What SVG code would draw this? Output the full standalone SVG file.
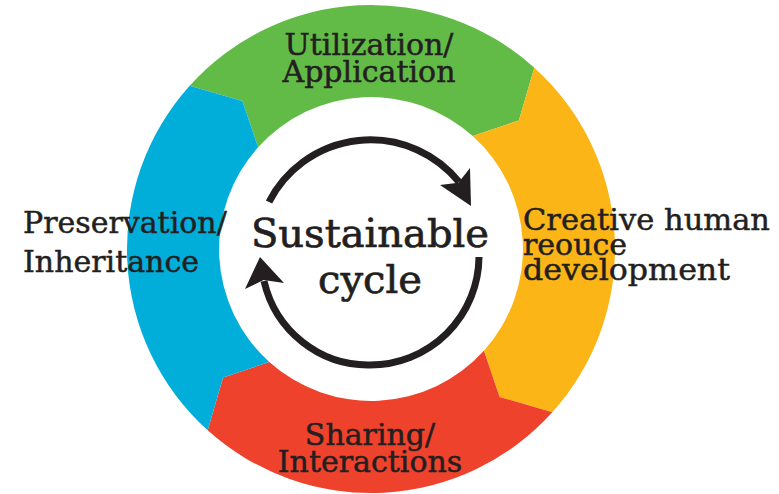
<svg xmlns="http://www.w3.org/2000/svg" width="779" height="494" viewBox="0 0 779 494">
<style>
.lbl{font-family:"DejaVu Serif","Liberation Serif",serif;font-size:30px;fill:#231F20;stroke:#231F20;stroke-width:0.5}
.mid{text-anchor:middle}
.big{font-size:40px;stroke-width:0.7}
.arc{fill:none;stroke:#231F20;stroke-width:7}
.head{fill:#231F20}
</style>
<rect width="779" height="494" fill="#ffffff"/>
<g id="utilization">
<path fill="#62BB47" d="M 189.7 85.7 A 244 244 0 0 1 534.3 67.7 L 518.9 120.4 L 472.7 136.1 A 152 152 0 0 0 258.1 147.3 L 242.4 101.1 Z"/>
<text class="lbl mid" x="369" y="55">Utilization/</text>
<text class="lbl mid" x="369" y="82">Application</text>
</g>
<g id="creative">
<path fill="#FBB517" d="M 534.3 67.7 A 244 244 0 0 1 552.3 412.3 L 499.6 396.9 L 483.9 350.7 A 152 152 0 0 0 472.7 136.1 L 518.9 120.4 Z"/>
<text class="lbl" x="523" y="230" textLength="247" lengthAdjust="spacingAndGlyphs">Creative human</text>
<text class="lbl" x="523" y="255">reouce</text>
<text class="lbl" x="523" y="280" textLength="207" lengthAdjust="spacingAndGlyphs">development</text>
</g>
<g id="sharing">
<path fill="#EE422C" d="M 552.3 412.3 A 244 244 0 0 1 207.7 430.3 L 223.1 377.6 L 269.3 361.9 A 152 152 0 0 0 483.9 350.7 L 499.6 396.9 Z"/>
<text class="lbl mid" x="370" y="445">Sharing/</text>
<text class="lbl mid" x="370" y="472">Interactions</text>
</g>
<g id="preservation">
<path fill="#00AED9" d="M 207.7 430.3 A 244 244 0 0 1 189.7 85.7 L 242.4 101.1 L 258.1 147.3 A 152 152 0 0 0 269.3 361.9 L 223.1 377.6 Z"/>
<text class="lbl" x="23" y="233">Preservation/</text>
<text class="lbl" x="23" y="272">Inheritance</text>
</g>
<g id="center">
<text class="lbl mid big" x="370" y="247">Sustainable</text>
<text class="lbl mid big" x="370" y="293">cycle</text>
</g>
<g id="connectors">
<path class="arc" d="M 269 202 A 114 114 0 0 1 459 182"/>
<polygon class="head" points="440,185 471,206 470,168 458.4,182.7"/>
<path class="arc" d="M 479 257 A 109 109 0 0 1 370 365 A 107 109 0 0 1 264 281"/>
<polygon class="head" points="245,289 260,257 284,283 263.6,280"/>
</g>
</svg>
